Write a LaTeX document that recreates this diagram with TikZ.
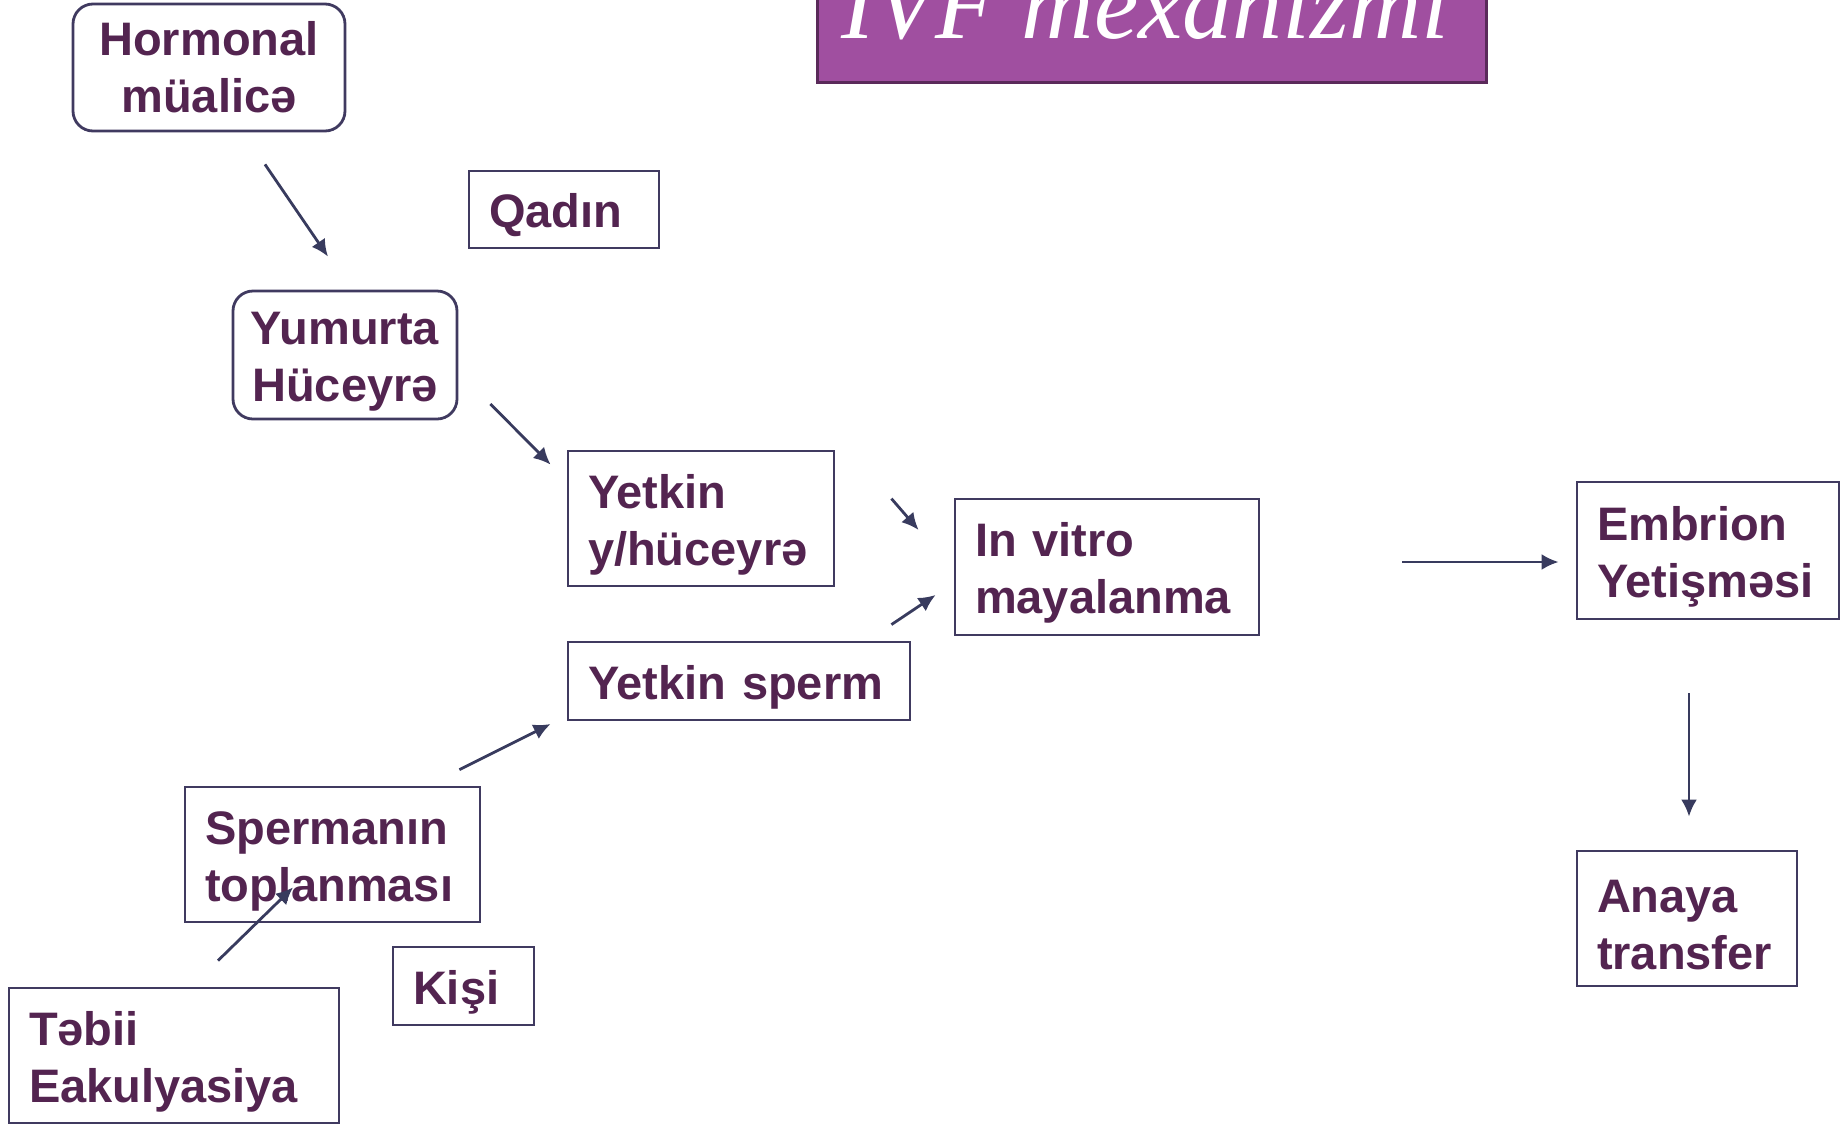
\documentclass[tikz,border=0pt]{standalone}
\usepackage{fontspec}
\newfontfamily\boxfont{Liberation Sans}
\newfontfamily\titlefont{Liberation Serif}
\usetikzlibrary{arrows.meta}
\definecolor{ctxt}{RGB}{83,36,80}
\definecolor{cbrd}{RGB}{64,58,96}
\definecolor{carr}{RGB}{56,59,94}
\definecolor{ctit}{RGB}{160,79,160}
\definecolor{ctitb}{RGB}{90,42,90}
\tikzset{>={Latex[length=8.5pt,width=8pt]},
    bbase/.style={draw=cbrd, line width=1.4pt, text=ctxt, font={\boxfont\bfseries\fontsize{23.5}{28.5}\selectfont}, inner xsep=10pt, align=left},
    push/.style={execute at begin node={\rule{0pt}{23pt}}},
    bx/.style={bbase, push},
    rbx/.style={bbase, rounded corners=10pt, align=center},
    arr/.style={->, draw=carr, line width=1.4pt}}

\begin{document}
\begin{tikzpicture}[x=0.5pt, y=-0.5pt]
    \useasboundingbox(0, 0) rectangle (1845, 1125);
    \clip(0, 0) rectangle (1845, 1125);
    \filldraw[fill=ctit, draw=ctitb, line width=1.5pt](817, -30) rectangle (1486, 82);
    \node[anchor=base west, inner sep=0, text=white, font={\titlefont\itshape\fontsize{50}{54}\selectfont}] (title) at (841, 38) {IVF mexanizmi};
    \node[rbx, text width=116pt, minimum height=63.5pt] (hormon) at (209, 67.5) {Hormonal\\müalicə};
    \node[bx, text width=75pt, minimum height=38.5pt] (qadin) at (564, 209.5) {Qadın};
    \node[rbx, push, inner xsep=6pt, text width=100pt, minimum height=64pt] (yumurta) at (345, 355) {Yumurta\\Hüceyrə};
    \node[bx, text width=113pt, minimum height=67.5pt] (yetkinyh) at (701, 518.5) {Yetkin\\y/hüceyrə};
    \node[bx, text width=132pt, minimum height=68pt] (invitro) at (1107, 567) {In vitro\\mayalanma};
    \node[bx, text width=151pt, minimum height=39pt] (sperm) at (739, 681) {Yetkin sperm};
    \node[bx, text width=127.5pt, minimum height=67.5pt] (toplama) at (332.5, 854.5) {Spermanın\\toplanması};
    \node[bx, text width=50.5pt, minimum height=39pt] (kisi) at (463.5, 986) {Kişi};
    \node[bx, text width=145pt, minimum height=67.5pt] (tebii) at (174, 1055.5) {Təbii\\Eakulyasiya};
    \node[bx, text width=111pt, minimum height=68.5pt] (embrion) at (1708, 550.5) {Embrion\\Yetişməsi};
    \node[bx, text width=90pt, minimum height=67.5pt] (transfer) at (1687, 918.5) {Anaya\\transfer};
    \draw[arr]([shift={(56, 32)}]hormon.south)--([shift={(-17, -33)}]yumurta.north);
    \draw[arr]([shift={(32, 49)}]yumurta.east)--([shift={(-16, 15)}]yetkinyh.north west);
    \draw[arr]([shift={(56, 49)}]yetkinyh.north east)--([shift={(-35, -37)}]invitro.west);
    \draw[arr]([shift={(-20, -16)}]sperm.north east)--([shift={(-18, 28)}]invitro.west);
    \draw[arr]([shift={(-22, -16)}]toplama.north east)--([shift={(-16, 43)}]sperm.west);
    \draw[arr]([shift={(44, -26)}]tebii.north)--([shift={(-39.5, -36)}]toplama.south);
    \draw[arr]([shift={(142, -5)}]invitro.east)--([shift={(-17, 11.5)}]embrion.west);
    \draw[arr]([shift={(-19, 73)}]embrion.south)--([shift={(2, -33)}]transfer.north);
\end{tikzpicture}
\end{document}
